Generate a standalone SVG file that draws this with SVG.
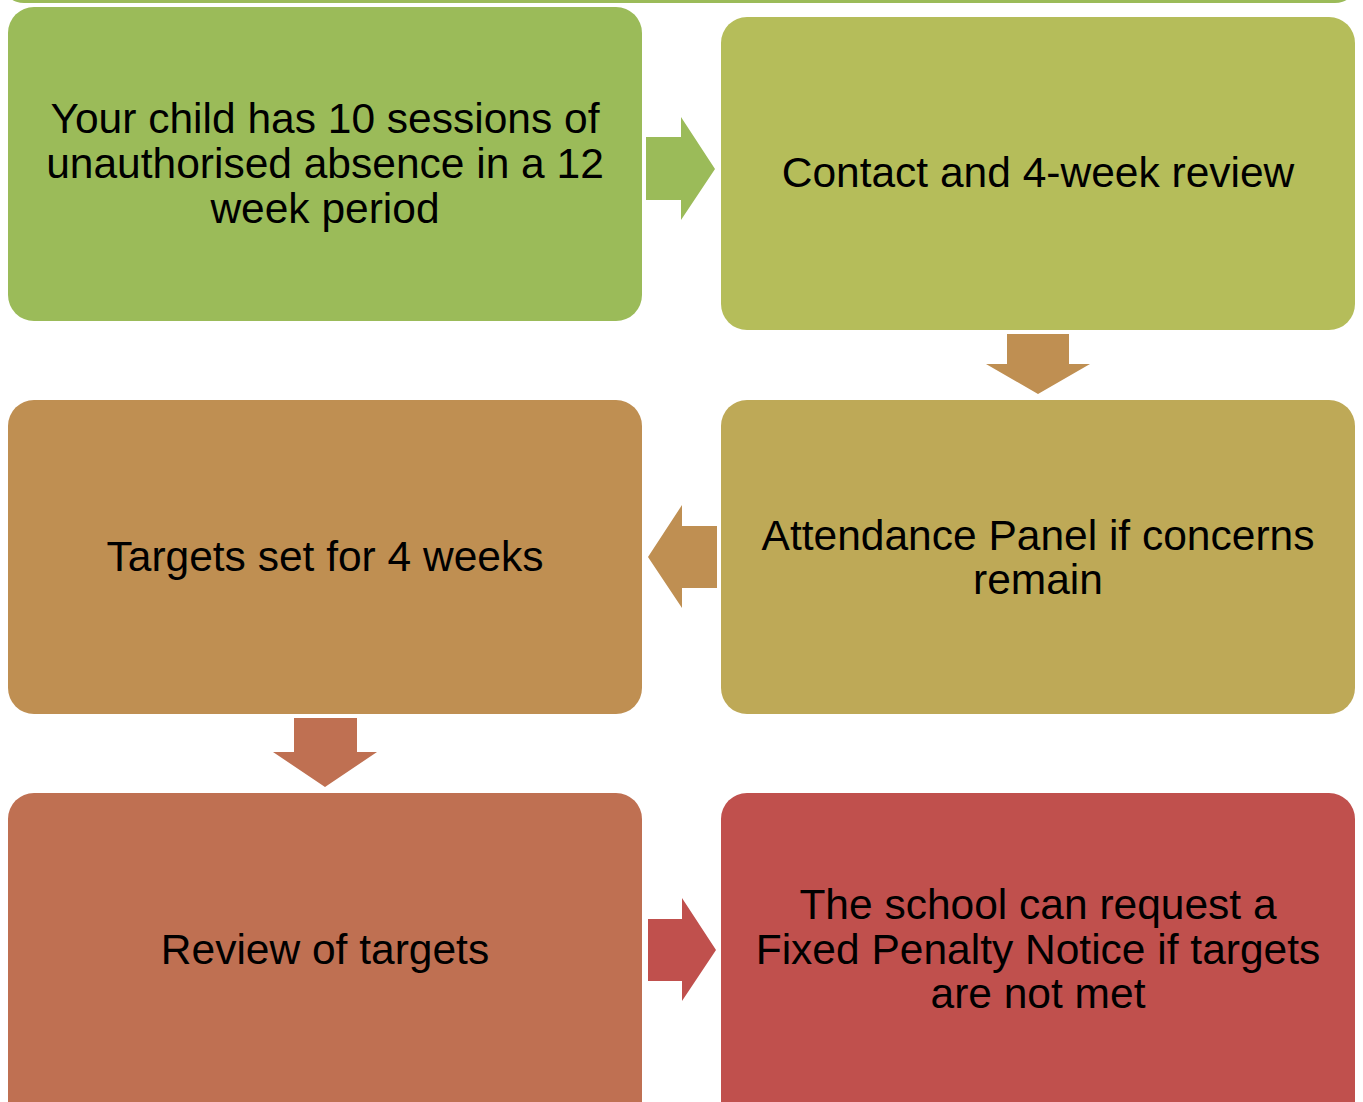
<svg xmlns="http://www.w3.org/2000/svg" width="1363" height="1102" viewBox="0 0 1363 1102">
<style>
text{font-family:"Liberation Sans",Arial,sans-serif;font-size:42.5px;fill:#000;text-anchor:middle}
</style>
<rect width="1363" height="1102" fill="#fff"/>
<rect id="top-strip" x="4" y="-30" width="1351" height="33" rx="20" fill="#9BBB59"/>
<g id="connectors">
<polygon points="646,137 681,137 681,117 715,169 681,220 681,200 646,200" fill="#9BBB59"/>
<polygon points="1007,334 1069,334 1069,364 1090,364 1038,394 986,364 1007,364" fill="#BF8F52"/>
<polygon points="717,526 682,526 682,505 648,557 682,608 682,588 717,588" fill="#BF8F52"/>
<polygon points="294,718 357,718 357,752 377,752 325,787 273,752 294,752" fill="#BF7052"/>
<polygon points="648,919 682,919 682,898 716,950 682,1001 682,981 648,981" fill="#C0504D"/>
</g>
<g id="n1"><rect x="8" y="7" width="634" height="314" rx="26" fill="#9BBB59"/>
<text x="325" y="133">Your child has 10 sessions of</text><text x="325" y="178">unauthorised absence in a 12</text><text x="325" y="223">week period</text></g>
<g id="n2"><rect x="721" y="17" width="634" height="313" rx="26" fill="#B5BD5A"/>
<text x="1038" y="187">Contact and 4-week review</text></g>
<g id="n3"><rect x="8" y="400" width="634" height="314" rx="26" fill="#BF8F52"/>
<text x="325" y="571">Targets set for 4 weeks</text></g>
<g id="n4"><rect x="721" y="400" width="634" height="314" rx="26" fill="#BEA957"/>
<text x="1038" y="550">Attendance Panel if concerns</text><text x="1038" y="594">remain</text></g>
<g id="n5"><rect x="8" y="793" width="634" height="340" rx="26" fill="#BF7052"/>
<text x="325" y="964">Review of targets</text></g>
<g id="n6"><rect x="721" y="793" width="634" height="340" rx="26" fill="#C0504D"/>
<text x="1038" y="919">The school can request a</text><text x="1038" y="964">Fixed Penalty Notice if targets</text><text x="1038" y="1008">are not met</text></g>
</svg>
